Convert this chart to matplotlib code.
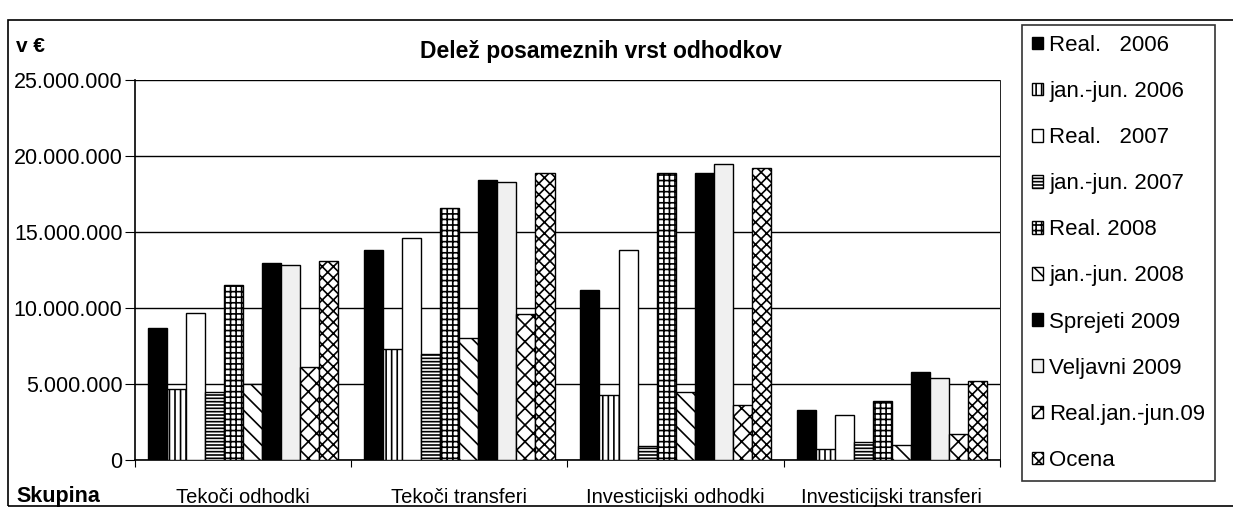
import numpy as np
import matplotlib
matplotlib.use('Agg')
import matplotlib.pyplot as plt
from matplotlib.patches import Rectangle
from matplotlib.ticker import FuncFormatter

plt.rcParams['font.family'] = ['Liberation Sans', 'DejaVu Sans']
plt.rcParams['hatch.linewidth'] = 1.2

# data (v €)
skupine = ['Tekoči odhodki', 'Tekoči transferi', 'Investicijski odhodki', 'Investicijski transferi']
serije = ['Real.   2006', 'jan.-jun. 2006', 'Real.   2007', 'jan.-jun. 2007', 'Real. 2008',
          'jan.-jun. 2008', 'Sprejeti 2009', 'Veljavni 2009', 'Real.jan.-jun.09', 'Ocena']
real_2006 = [8700000, 13800000, 11200000, 3300000]
jj_2006 = [4700000, 7300000, 4300000, 700000]
real_2007 = [9700000, 14600000, 13800000, 3000000]
jj_2007 = [4500000, 7000000, 900000, 1200000]
real_2008 = [11500000, 16600000, 18900000, 3900000]
jj_2008 = [5000000, 8000000, 4500000, 1000000]
sprejeti_2009 = [12950000, 18400000, 18900000, 5800000]
veljavni_2009 = [12850000, 18300000, 19500000, 5400000]
real_jj_09 = [6100000, 9600000, 3600000, 1700000]
ocena = [13100000, 18900000, 19200000, 5200000]
vrednosti = [real_2006, jj_2006, real_2007, jj_2007, real_2008,
             jj_2008, sprejeti_2009, veljavni_2009, real_jj_09, ocena]

stili = [('black', ''), ('white', '|||'), ('white', ''), ('white', '-----'), ('white', '+++'),
         ('white', '\\\\'), ('black', ''), ('#f0f0f0', ''), ('white', 'xx'), ('white', 'xxx')]

fig = plt.figure(figsize=(12.33, 5.09), dpi=100)
ax = fig.add_axes([0.1095, 0.096, 0.7015, 0.747])

x = np.arange(len(skupine))
w = 0.088
for j, (ime, vals) in enumerate(zip(serije, vrednosti)):
    fc, h = stili[j]
    ax.bar(x + (j - 4.5) * w, vals, w, color=fc, edgecolor='black', hatch=h,
           linewidth=1.0, label=ime, zorder=3)

ax.set_xlim(-0.5, 3.5)
ax.set_ylim(0, 25000000)
ax.set_yticks(np.arange(0, 25000001, 5000000))
ax.yaxis.set_major_formatter(FuncFormatter(lambda v, p: f'{int(v):,}'.replace(',', '.')))
ax.yaxis.grid(True, color='black', linewidth=1.0, zorder=0)
ax.tick_params(axis='y', labelsize=15.5, direction='out', length=7, pad=2)

ax.set_xticks(np.arange(-0.5, 3.6, 1.0))
ax.set_xticklabels([])
ax.set_xticks(x, minor=True)
ax.set_xticklabels(skupine, minor=True, fontsize=14.5)
ax.tick_params(axis='x', which='major', direction='out', length=5)
ax.tick_params(axis='x', which='minor', length=0, pad=20)

ax.spines['top'].set_visible(False)
ax.spines['right'].set_linewidth(0.6)
ax.spines['right'].set_linestyle((0, (2, 1)))
ax.spines['left'].set_linewidth(1.2)
ax.spines['bottom'].set_linewidth(1.2)

fig.text(0.487, 0.898, 'Delež posameznih vrst odhodkov', fontsize=16.5, fontweight='bold',
         ha='center', va='center')
fig.text(0.013, 0.908, 'v €', fontsize=15, fontweight='bold', ha='left', va='center')
fig.text(0.013, 0.024, 'Skupina', fontsize=15.5, fontweight='bold', ha='left', va='center')

# okvir grafikona
fig.add_artist(Rectangle((0.0065, 0.006), 1.2, 0.954, transform=fig.transFigure,
                         fill=False, edgecolor='black', linewidth=1.2))

leg = ax.legend(loc='upper left', bbox_to_anchor=(0.8285, 0.951), bbox_transform=fig.transFigure,
                fontsize=16, frameon=True, fancybox=False, edgecolor='black',
                handlelength=0.5, handleheight=0.5, handletextpad=0.3, labelspacing=1.13,
                borderpad=0.45, borderaxespad=0)
leg.get_frame().set_linewidth(1.2)

plt.savefig('out.png', dpi=100)
